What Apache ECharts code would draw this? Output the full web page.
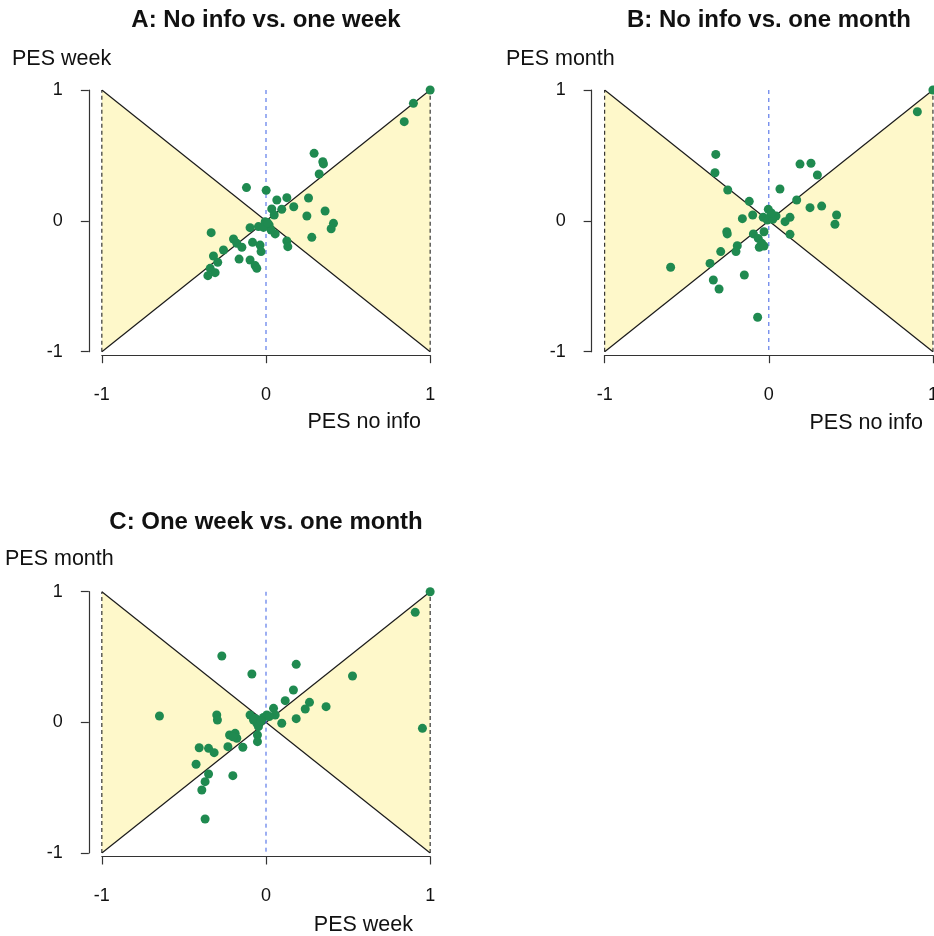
<!DOCTYPE html>
<html><head><meta charset="utf-8">
<script src="https://cdn.jsdelivr.net/npm/echarts@6/dist/echarts.min.js"></script>
<style>html,body{margin:0;padding:0;background:#fff;overflow:hidden}#c{width:934px;height:936px}</style>
</head><body><div id="c"></div>
<script>
// ---- data ----
const panelTitles = ['A: No info vs. one week', 'B: No info vs. one month', 'C: One week vs. one month'];
const xNames = ['PES no info', 'PES no info', 'PES week'];
const yNames = ['PES week', 'PES month', 'PES month'];
const tickValues = [-1, 0, 1];
const bowtieLeft = [-1, 1, -1, -1, 0, 0];
const bowtieRight = [1, 1, 1, -1, 0, 0];
const diagUp = [[-1, -1], [1, 1]];
const diagDown = [[-1, 1], [1, -1]];
const edgeLeft = [[-1, -1], [-1, 1]];
const edgeRight = [[1, -1], [1, 1]];
const zeroLine = [[0, 1], [0, -1]];

const pesA = [
  [1.0,1.0],[0.898,0.898],[0.842,0.758],
  [0.293,0.516],[0.346,0.452],[0.350,0.435],[0.324,0.358],
  [-0.119,0.254],[0.001,0.233],[0.066,0.159],[0.127,0.177],[0.259,0.175],
  [0.035,0.091],[0.096,0.088],[0.169,0.108],[0.050,0.045],[0.360,0.075],[0.249,0.037],
  [0.411,-0.019],[0.397,-0.060],[0.279,-0.126],[0.127,-0.154],[0.133,-0.197],
  [-0.005,-0.006],[0.019,-0.032],[-0.046,-0.044],[-0.097,-0.052],[0.056,-0.100],[0.031,-0.070],[-0.015,-0.050],[0.010,-0.015],
  [-0.334,-0.090],[-0.198,-0.139],[-0.178,-0.172],[-0.147,-0.202],[-0.082,-0.164],[-0.036,-0.185],[-0.030,-0.235],
  [-0.259,-0.223],[-0.320,-0.269],[-0.294,-0.317],[-0.164,-0.292],[-0.097,-0.299],[-0.066,-0.342],[-0.056,-0.363],
  [-0.340,-0.363],[-0.310,-0.396],[-0.354,-0.419]
];
const pesB = [
  [1.0,1.0],[0.905,0.834],
  [-0.323,0.508],[-0.328,0.368],[-0.250,0.236],[-0.119,0.149],
  [0.190,0.434],[0.257,0.440],[0.296,0.350],[0.068,0.243],[0.170,0.159],[0.251,0.101],[0.322,0.113],[0.413,0.045],[0.403,-0.026],
  [0.129,0.027],[0.099,-0.006],[0.129,-0.103],[-0.098,0.045],[-0.161,0.017],
  [-0.003,0.088],[-0.034,0.027],[0.007,0.027],[0.044,0.037],[-0.009,0.006],[0.024,0.012],[0.015,0.060],
  [-0.029,-0.083],[-0.094,-0.100],[-0.064,-0.134],[-0.043,-0.172],[-0.058,-0.202],[-0.029,-0.192],
  [-0.256,-0.083],[-0.253,-0.100],[-0.192,-0.190],[-0.200,-0.235],[-0.293,-0.235],[-0.358,-0.325],[-0.598,-0.355],
  [-0.149,-0.414],[-0.338,-0.452],[-0.303,-0.521],[-0.068,-0.737]
];
const pesC = [
  [1.0,1.0],[0.909,0.842],[0.527,0.355],[0.953,-0.046],
  [-0.269,0.508],[-0.086,0.370],[0.184,0.444],[0.167,0.248],[0.117,0.166],[0.265,0.153],[0.239,0.102],[0.366,0.120],[0.184,0.028],[0.096,-0.007],
  [0.046,0.107],[0.056,0.056],[0.005,0.056],[-0.016,0.038],[-0.097,0.056],[-0.076,0.018],[-0.056,-0.007],[-0.046,-0.033],[-0.066,0.030],[0.020,0.045],[-0.030,0.010],
  [-0.649,0.049],[-0.300,0.056],[-0.296,0.018],
  [-0.052,-0.097],[-0.052,-0.148],[-0.222,-0.097],[-0.188,-0.084],[-0.178,-0.122],[-0.202,-0.110],[-0.141,-0.191],[-0.232,-0.186],
  [-0.407,-0.194],[-0.350,-0.199],[-0.316,-0.232],[-0.426,-0.321],[-0.350,-0.395],[-0.371,-0.454],[-0.391,-0.518],[-0.202,-0.408],[-0.371,-0.740]
];
const panelData = [pesA, pesB, pesC];

// ---- layout / style ----
const grids = [
  {left: 101.85, top: 90, width: 328.3, height: 261.7},
  {left: 604.65, top: 90, width: 328.3, height: 261.7},
  {left: 101.85, top: 591.7, width: 328.3, height: 261.3}
];
const FONT = '"Liberation Sans", Arial, sans-serif';
const AX = '#333';
const chart = echarts.init(document.getElementById('c'), null, {renderer: 'canvas', width: 934, height: 936});

const xAxes = [], yAxes = [], series = [], texts = [];
grids.forEach((g, i) => {
  xAxes.push({
    gridIndex: i, type: 'value', min: -1, max: 1, interval: 1, offset: 3.5,
    axisLine: {show: true, onZero: false, lineStyle: {color: AX, width: 1.2}},
    axisTick: {show: true, length: 8, lineStyle: {color: AX, width: 1.2}},
    axisLabel: {show: true, margin: 31, fontSize: 18, color: '#111', fontFamily: FONT, showMinLabel: true, showMaxLabel: true,
      hideOverlap: false, customValues: tickValues},
    splitLine: {show: false}
  });
  yAxes.push({
    gridIndex: i, type: 'value', min: -1, max: 1, interval: 1, offset: 13,
    axisLine: {show: true, onZero: false, lineStyle: {color: AX, width: 1.2}},
    axisTick: {show: true, length: 8, lineStyle: {color: AX, width: 1.2}},
    axisLabel: {show: true, margin: 26, fontSize: 18, color: '#111', fontFamily: FONT, showMinLabel: true, showMaxLabel: true,
      customValues: tickValues},
    splitLine: {show: false}
  });
  series.push({
    type: 'custom', xAxisIndex: i, yAxisIndex: i, z: 1, silent: true, clip: false,
    data: [bowtieLeft, bowtieRight],
    renderItem: (params, api) => {
      const pts = [];
      for (let k = 0; k < 3; k++) pts.push(api.coord([api.value(2 * k), api.value(2 * k + 1)]));
      return {type: 'polygon', shape: {points: pts}, style: {fill: '#FEF8CA', stroke: null}};
    }
  });
  [diagUp, diagDown].forEach(d => series.push({
    type: 'line', xAxisIndex: i, yAxisIndex: i, data: d, symbol: 'none', z: 2, silent: true,
    lineStyle: {color: '#1a1a1a', width: 1.2}
  }));
  [edgeLeft, edgeRight].forEach(d => series.push({
    type: 'line', xAxisIndex: i, yAxisIndex: i, data: d, symbol: 'none', z: 2, silent: true, clip: false,
    lineStyle: {color: '#222', width: 1.1, type: [4, 3]}
  }));
  series.push({
    type: 'line', xAxisIndex: i, yAxisIndex: i, data: zeroLine, symbol: 'none', z: 3, silent: true,
    lineStyle: {color: '#4F6FE8', width: 1.1, type: [4, 4]}
  });
  series.push({
    type: 'scatter', xAxisIndex: i, yAxisIndex: i, data: panelData[i], symbol: 'circle', symbolSize: 9, z: 5,
    clip: false, itemStyle: {color: '#1F8A50', opacity: 1}
  });
});

const titlePos = [[266, 20], [769, 20], [266, 522]];
const yNamePos = [[12, 59], [506, 59], [5, 559]];
const xNamePos = [[421, 422], [923, 423], [413, 925]];
for (let i = 0; i < 3; i++) {
  texts.push({type: 'text', x: titlePos[i][0], y: titlePos[i][1],
    style: {text: panelTitles[i], font: 'bold 24px ' + FONT, fill: '#111', textAlign: 'center', textVerticalAlign: 'middle'}});
  texts.push({type: 'text', x: yNamePos[i][0], y: yNamePos[i][1],
    style: {text: yNames[i], font: '21.5px ' + FONT, fill: '#111', textAlign: 'left', textVerticalAlign: 'middle'}});
  texts.push({type: 'text', x: xNamePos[i][0], y: xNamePos[i][1],
    style: {text: xNames[i], font: '21.5px ' + FONT, fill: '#111', textAlign: 'right', textVerticalAlign: 'middle'}});
}

chart.setOption({
  animation: false,
  backgroundColor: '#fff',
  grid: grids.map(g => Object.assign({containLabel: false, outerBoundsMode: 'none'}, g)),
  xAxis: xAxes, yAxis: yAxes, series: series,
  graphic: texts
});
</script></body></html>
